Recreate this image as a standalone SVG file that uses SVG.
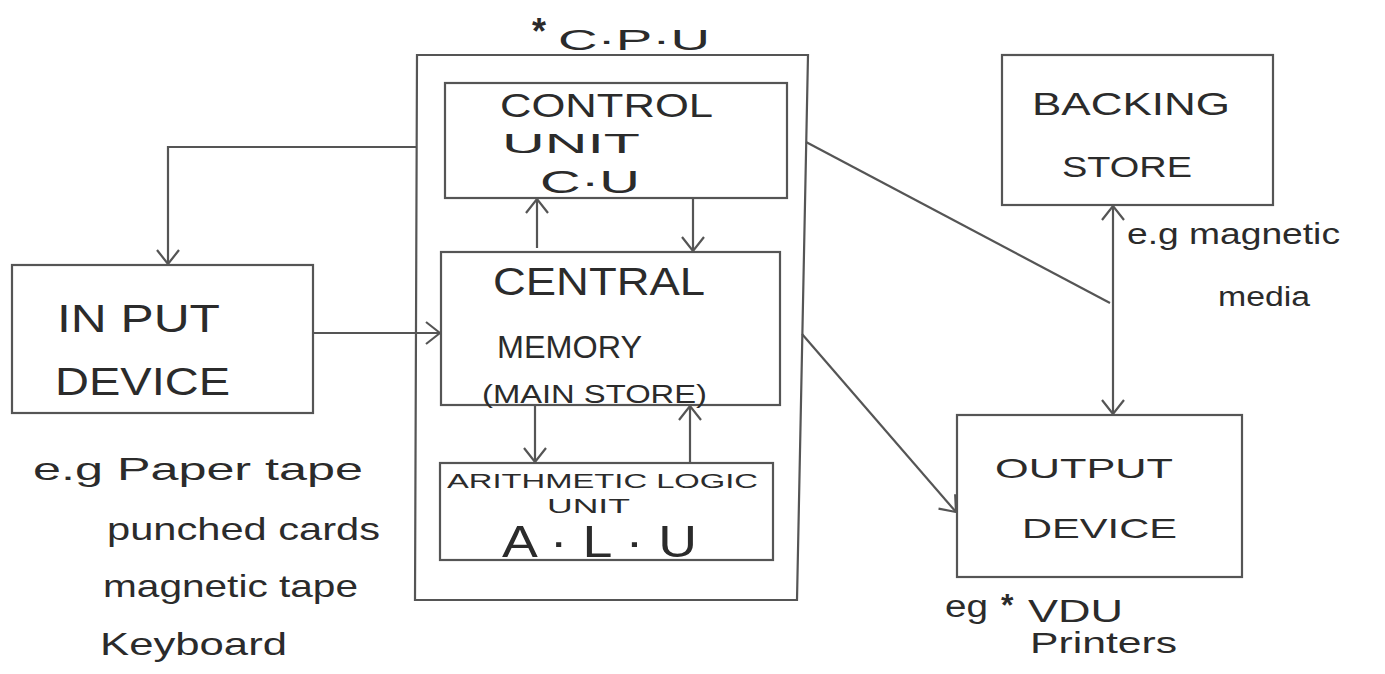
<svg xmlns="http://www.w3.org/2000/svg" width="1385" height="674" viewBox="0 0 1385 674">
<defs>
<style>
.box{fill:none;stroke:#555;stroke-width:2.2;stroke-linejoin:miter}
.ln{fill:none;stroke:#555;stroke-width:2.2}
.t{font-family:"Liberation Sans",Arial,sans-serif;fill:#2b2b2b}
.star{font-family:"Liberation Sans",Arial,sans-serif;fill:#2b2b2b;font-weight:bold}
</style>
<marker id="ah" viewBox="0 0 16 24" refX="15" refY="12" markerWidth="16" markerHeight="24" markerUnits="userSpaceOnUse" orient="auto-start-reverse">
<path d="M1,1 L15,12 L1,23" fill="none" stroke="#555" stroke-width="2.2"/>
</marker>
</defs>
<rect width="1385" height="674" fill="#fff"/>

<g id="cpu">
<polygon class="box" points="417,55 808,55 797,600 415,600"/>
<text class="star" x="532" y="44" font-size="36">*</text>
<text class="t" x="558" y="50" font-size="30" textLength="152" lengthAdjust="spacingAndGlyphs">C·P·U</text>
</g>

<g id="control-unit">
<rect class="box" x="445" y="83" width="342" height="115"/>
<text class="t" x="500" y="117" font-size="34" textLength="213" lengthAdjust="spacingAndGlyphs">CONTROL</text>
<text class="t" x="502" y="153" font-size="28" textLength="138" lengthAdjust="spacingAndGlyphs">UNIT</text>
<text class="t" x="540" y="193" font-size="32" textLength="100" lengthAdjust="spacingAndGlyphs">C·U</text>
</g>

<g id="central-memory">
<rect class="box" x="441" y="252" width="339" height="153"/>
<text class="t" x="493" y="295" font-size="38" textLength="212" lengthAdjust="spacingAndGlyphs">CENTRAL</text>
<text class="t" x="497" y="358" font-size="32" textLength="145" lengthAdjust="spacingAndGlyphs">MEMORY</text>
<text class="t" x="482" y="403" font-size="26" textLength="225" lengthAdjust="spacingAndGlyphs">(MAIN STORE)</text>
</g>

<g id="alu">
<rect class="box" x="440" y="463" width="333" height="97"/>
<text class="t" x="447" y="488" font-size="21" textLength="311" lengthAdjust="spacingAndGlyphs">ARITHMETIC LOGIC</text>
<text class="t" x="547" y="513" font-size="20" textLength="83" lengthAdjust="spacingAndGlyphs">UNIT</text>
<text class="t" x="502" y="557" font-size="44" textLength="195" lengthAdjust="spacingAndGlyphs">A · L · U</text>
</g>

<g id="input-device">
<rect class="box" x="12" y="265" width="301" height="148"/>
<text class="t" x="57" y="332" font-size="39" textLength="163" lengthAdjust="spacingAndGlyphs">IN PUT</text>
<text class="t" x="55" y="395" font-size="39" textLength="175" lengthAdjust="spacingAndGlyphs">DEVICE</text>
<text class="t" x="33" y="480" font-size="32" textLength="330" lengthAdjust="spacingAndGlyphs">e.g Paper tape</text>
<text class="t" x="107" y="540" font-size="32" textLength="273" lengthAdjust="spacingAndGlyphs">punched cards</text>
<text class="t" x="103" y="597" font-size="32" textLength="255" lengthAdjust="spacingAndGlyphs">magnetic tape</text>
<text class="t" x="100" y="655" font-size="32" textLength="187" lengthAdjust="spacingAndGlyphs">Keyboard</text>
</g>

<g id="backing-store">
<rect class="box" x="1002" y="55" width="271" height="150"/>
<text class="t" x="1032" y="115" font-size="32" textLength="198" lengthAdjust="spacingAndGlyphs">BACKING</text>
<text class="t" x="1062" y="177" font-size="30" textLength="130" lengthAdjust="spacingAndGlyphs">STORE</text>
<text class="t" x="1127" y="244" font-size="30" textLength="213" lengthAdjust="spacingAndGlyphs">e.g magnetic</text>
<text class="t" x="1218" y="306" font-size="27" textLength="92" lengthAdjust="spacingAndGlyphs">media</text>
</g>

<g id="output-device">
<rect class="box" x="957" y="415" width="285" height="162"/>
<text class="t" x="995" y="478" font-size="28" textLength="178" lengthAdjust="spacingAndGlyphs">OUTPUT</text>
<text class="t" x="1022" y="538" font-size="28" textLength="155" lengthAdjust="spacingAndGlyphs">DEVICE</text>
<text class="t" x="945" y="617" font-size="31" textLength="43" lengthAdjust="spacingAndGlyphs">eg</text>
<text class="star" x="1001" y="616" font-size="32">*</text>
<text class="t" x="1028" y="622" font-size="32" textLength="95" lengthAdjust="spacingAndGlyphs">VDU</text>
<text class="t" x="1030" y="653" font-size="30" textLength="147" lengthAdjust="spacingAndGlyphs">Printers</text>
</g>

<g id="connectors">
<polyline class="ln" points="417,147 168,147 168,264" marker-end="url(#ah)"/>
<line class="ln" x1="313" y1="333" x2="440" y2="333" marker-end="url(#ah)"/>
<line class="ln" x1="537" y1="248" x2="537" y2="199" marker-end="url(#ah)"/>
<line class="ln" x1="693" y1="198" x2="693" y2="251" marker-end="url(#ah)"/>
<line class="ln" x1="535" y1="405" x2="535" y2="462" marker-end="url(#ah)"/>
<line class="ln" x1="690" y1="463" x2="690" y2="406" marker-end="url(#ah)"/>
<line class="ln" x1="806" y1="142" x2="1110" y2="303"/>
<line class="ln" x1="1113" y1="206" x2="1113" y2="414" marker-start="url(#ah)" marker-end="url(#ah)"/>
<line class="ln" x1="802" y1="334" x2="956" y2="512" marker-end="url(#ah)"/>
</g>
</svg>
